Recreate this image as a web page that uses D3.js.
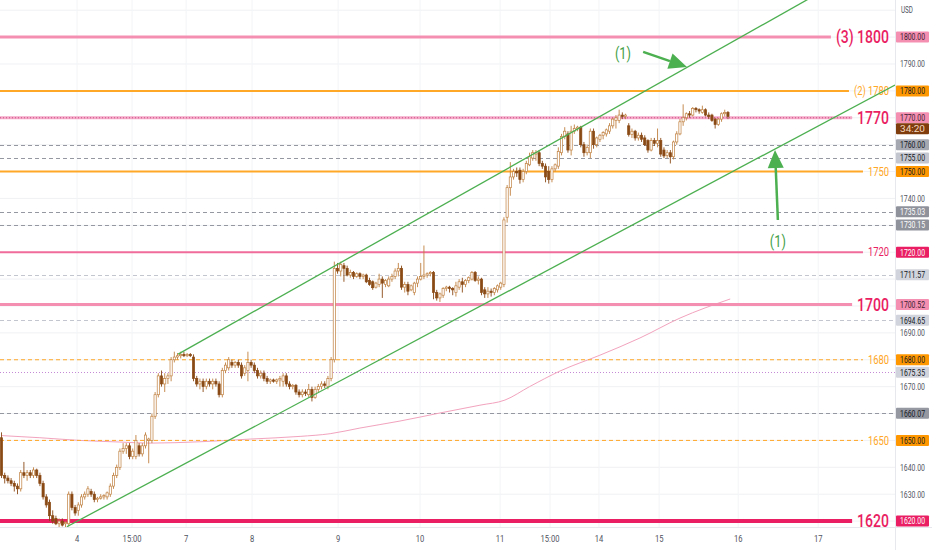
<!DOCTYPE html>
<html>
<head>
<meta charset="utf-8">
<script src="https://cdn.jsdelivr.net/npm/d3@7"></script>
<style>
  html, body { margin: 0; padding: 0; background: #fff; overflow: hidden; }
  svg { display: block; font-family: Roboto, "Noto Sans", sans-serif; }
</style>
</head>
<body>
<div class="container"></div>
<script>
// hourly candles: [open, high, low, close]
const candles = [
  [1651,1653,1636,1637],[1637,1638,1634,1636],[1636,1637,1634,1635],[1635,1636,1633,1634],
  [1634,1635,1631,1633],[1633,1634,1630,1632],[1632,1639,1631,1638],[1638,1642,1636,1637],
  [1637,1639,1635,1638],[1638,1639,1636,1637],[1637,1640,1636,1639],[1639,1639.5,1636,1637],
  [1637,1638,1633,1634],[1634,1635,1628,1629],[1629,1630,1625,1626],[1627,1628,1620,1622],
  [1622,1624,1619,1620],[1621,1622,1618.5,1619],[1619,1621,1617.5,1620],[1620,1621,1618,1618.5],
  [1619,1620,1617.5,1619.5],[1619,1631,1618,1630],[1630,1631,1624,1625],[1625,1626,1622,1623],
  [1624,1627,1622,1626],[1626,1630,1625,1629],[1629,1631,1628,1630],[1630,1633,1629,1632],
  [1631,1632,1629,1630],[1630,1631,1627,1628],[1628,1629,1627,1628.5],[1628.5,1630,1628,1629],
  [1629,1630,1628,1629.5],[1629,1631,1628,1630.5],[1630,1634,1629,1633],[1633,1638,1632,1637],
  [1637,1641,1636,1640],[1640,1647,1639,1646],[1646,1649,1645,1647],[1647,1649,1645,1648],
  [1648,1649,1643,1644],[1644,1647,1643,1646],[1644,1652,1643,1650],[1648,1649,1644,1645],
  [1645,1649,1644,1648],[1648,1653,1647,1652],[1650,1651,1641.5,1650.5],[1650,1660,1649,1659],
  [1659,1668,1658,1667],[1667,1675,1666,1674],[1674,1676,1670,1671],[1671,1675,1668,1673],
  [1673,1675,1671,1674],[1674,1681,1672,1680],[1680,1683,1679,1681],[1681,1682.5,1680,1681.5],
  [1681.5,1683,1680.5,1682],[1682,1683,1681,1681.5],[1681.5,1682.5,1681,1682],[1682,1682.5,1681,1681.5],
  [1681,1682,1672,1673],[1673,1674,1670,1671],[1671,1673,1669,1672],[1672,1673,1668,1670],
  [1670,1673,1669,1672],[1672,1673,1670,1671],[1671,1673,1669,1672],[1672,1673,1670,1671],
  [1671,1672,1666,1667],[1667,1677,1666,1676],[1676,1679,1675,1678],[1677,1681,1676,1680],
  [1679,1680,1677,1678],[1678,1679.5,1677,1679],[1679,1680,1677,1678],[1678,1679,1673,1674],
  [1675,1678,1674,1677],[1676,1683,1672,1679],[1679,1680,1677,1678],[1678,1679,1675,1676],
  [1676,1677,1673,1674],[1674,1676,1673,1675],[1675,1676,1672,1673],[1673,1674,1671,1672],
  [1672,1673,1671,1672.5],[1672.5,1673,1671.5,1672],[1672,1673,1671,1672.5],[1672.5,1674,1670,1673],
  [1672,1675,1670,1674],[1674,1675,1670,1671],[1671,1672,1669,1670],[1670,1671,1669,1670.5],
  [1670.5,1671,1667,1668],[1668,1669,1666,1667],[1667,1669,1666,1668],[1668,1669,1666.5,1667.5],
  [1667,1671,1666,1669],[1669,1670,1664.5,1666],[1666,1670,1665.5,1669],[1669,1671,1668,1670],
  [1670,1672,1669,1671],[1671,1672,1669.5,1670.5],[1670,1674,1669,1673],[1673,1681,1672,1680],
  [1680,1716.5,1679,1714],[1714,1716,1712,1713],[1713,1716.5,1711,1715.5],[1715,1716,1709,1714],
  [1714,1715,1711,1711.5],[1711.5,1713.5,1710.5,1712.5],[1712.5,1713,1710,1711],[1711,1712.5,1710.5,1712],
  [1712,1712.5,1710,1711],[1711,1712,1710,1711.5],[1711.5,1712,1708.5,1709],[1709.5,1710.5,1707.5,1708],
  [1709,1709.5,1706,1706.8],[1707,1709,1706.5,1708.5],[1708,1712,1707,1710],[1710,1711,1703,1708.5],
  [1708,1710,1707,1709.5],[1707.5,1711,1707,1710],[1710,1712,1709,1711],[1711,1714,1710,1713],
  [1713,1716,1711,1714],[1714,1715,1706,1707],[1707,1709,1705,1708],[1708,1709,1704,1705.5],
  [1706,1708,1705.5,1707.5],[1705,1709,1704,1708.5],[1708.5,1711,1707,1710],[1710,1716,1709.5,1711],
  [1711,1722.5,1710,1711.5],[1711.5,1712.5,1710.5,1712],[1712,1713,1711,1712.5],[1712.5,1713,1702.5,1705],
  [1705,1706,1702,1703],[1703,1705,1701.5,1704.5],[1704,1707,1703,1706.5],[1706.5,1707.5,1705.5,1707],
  [1707,1707.5,1705,1706.5],[1706.5,1707,1704,1706],[1705,1709,1703.5,1707.5],[1707,1710,1706,1709],
  [1709,1710.5,1705,1708],[1708,1710,1707,1709.5],[1709.5,1711,1708.5,1710.5],[1710,1713,1709.5,1712.5],
  [1712.5,1713,1709,1709.5],[1709.5,1711,1708,1710],[1710,1710.5,1704,1705],[1706,1707,1703,1704.5],
  [1704.5,1707,1703,1705.5],[1705.5,1706.5,1703.5,1705],[1705,1707,1704,1706.5],[1706,1708,1705,1707.5],
  [1707,1709,1706,1708.5],[1708,1733,1707,1732],[1733,1745,1731,1744],[1744,1753.5,1741,1748],
  [1748,1751,1747,1750],[1750,1751.5,1748,1749.5],[1750.5,1751.5,1745.5,1747],[1747,1751,1746,1750],
  [1750,1754,1749,1753],[1752.5,1757,1752,1755.5],[1755,1758,1754,1757],[1756.5,1758,1754,1757],
  [1757,1758,1752,1753],[1753,1754,1751,1752],[1752,1753,1746,1748],[1750,1752,1745.5,1747],
  [1747,1752,1746,1751],[1751,1753,1750,1752.5],[1752,1759,1751,1757.5],[1757,1764,1756,1763],
  [1763,1766.5,1762,1765],[1764,1765,1757,1758],[1758,1767,1756,1765],[1765,1767.5,1764,1766],
  [1766,1767,1765,1766.5],[1766.5,1767,1759,1760],[1760,1761,1755.5,1757],[1757,1760,1756,1759],
  [1757,1766,1755,1765],[1765,1766,1758.5,1760],[1760,1763,1759,1762.5],[1762,1764,1761,1763.5],
  [1763.5,1765,1762,1764.5],[1764,1766,1763,1765.5],[1765,1768,1764,1767],[1767,1770,1766,1769.5],
  [1769,1771,1766,1770],[1769,1773,1768,1771],[1771,1772,1769.5,1770.5],[1770.5,1771.5,1769.5,1771],
  [1767,1768,1763,1763.8],[1763.8,1766,1762.5,1765],[1765,1765.5,1761.5,1762.5],[1762.5,1764.5,1761.5,1763.5],
  [1763.5,1764.5,1761,1762],[1762.5,1763.5,1759.5,1760],[1761.5,1762,1757,1758],[1758,1762.5,1757.5,1761.5],
  [1761.5,1762.5,1759.5,1760.5],[1760.5,1766,1759,1761.5],[1761.5,1762.5,1755.5,1756.5],[1758,1759,1755,1755.8],
  [1756,1758,1755,1757],[1757,1758,1753,1755.5],[1755.5,1761.5,1754.5,1761],[1761,1765,1760,1764],
  [1764,1769.5,1763.5,1768.5],[1768.5,1775,1767,1770],[1770,1772,1769,1771.5],[1771.5,1772.5,1770,1771],
  [1771,1774,1770.5,1773.5],[1773.5,1774,1772,1773],[1773,1773.5,1771.5,1772.5],[1772,1774.5,1771.5,1773],
  [1773,1773.5,1770.5,1771],[1771,1772,1769.5,1770.5],[1771,1771.5,1768.5,1769],[1769.5,1770,1766,1767.5],
  [1767.5,1770,1767,1769.5],[1769.5,1772,1768.5,1771.5],[1771.5,1773,1770.5,1772],[1772,1772.5,1769.5,1770.5]
];

// time axis (bar index -> label)
const timeTickIdx  = [23.6, 40.8, 57.7, 78.3, 105.2, 130.8, 155.8, 171.4, 186.7, 205.5, 230.2, 255.2];
const timeTickText = ["4", "15:00", "7", "8", "9", "10", "11", "15:00", "14", "15", "16", "17"];

// price axis ticks that are not hidden by tags
const priceTickVals = [1790, 1740, 1690, 1670, 1640, 1630];
const gridVals = [1620,1630,1640,1650,1660,1670,1680,1690,1700,1710,1720,1730,1740,1750,1760,1770,1780,1790,1800,1810];

// moving average, read at a few bars
const maIdx = [0, 12, 24.5, 37, 46.4, 62, 77.7, 93.3, 102.7, 112, 124.5, 137, 149.5, 157.3, 165, 174.5, 187, 199.5, 212, 227.7];
const maVal = [1651.8, 1651, 1650, 1649.4, 1649, 1649.5, 1650.5, 1651.5, 1652.5, 1654.6, 1657.2, 1660.2, 1663.1, 1665, 1670, 1675.8, 1681.7, 1688.1, 1695.5, 1702.6];

// drawn levels
const levelVal  = [1800, 1780, 1770, 1750, 1720, 1700.52, 1680, 1650, 1620];
const levelText = ["(3) 1800", "(2) 1780", "1770", "1750", "1720", "1700", "1680", "1650", "1620"];
const levelTag  = ["1800.00", "1780.00", "1770.00", "1750.00", "1720.00", "1700.52", "1680.00", "1650.00", "1620.00"];

// other price markers (dashed)
const markVal = [1760, 1755, 1735.03, 1730.15, 1711.57, 1694.65, 1675.35, 1660.07];
const markTag = ["1760.00", "1755.00", "1735.03", "1730.15", "1711.57", "1694.65", "1675.35", "1660.07"];

// channel lines [barIndex, price]
const upperChannel = [[55.2, 1682.1], [279.2, 1832.3]];
const lowerChannel = [[20.4, 1617.9], [279.2, 1782.2]];

// arrow notes: tail, tip, label position [barIndex, price]
const arrowTail  = [[200.5, 1794.5], [242.6, 1732]];
const arrowTip   = [[214.2, 1788.9], [241.7, 1758]];
const arrowLabel = [[194.2, 1794.1], [242.6, 1724.2]];
const arrowText  = ["(1)", "(1)"];

const countdown = "34:20";

// ---------------------------------------------------------------
const W = 932, H = 550, plotW = 895, plotH = 527;
const PINK = "#f48fb1", CRIM = "#e91e63", ORG = "#ffa726", GREEN = "#4caf50";
const BULL = "#c08040", BEAR = "#8a4a15";

const x = d3.scaleLinear().domain([-0.47, 279.2]).range([0, plotW]);
const y = d3.scaleLinear().domain([1617.8, 1813.8]).range([plotH, 0]);

const svg = d3.select(".container").append("svg")
  .attr("width", W).attr("height", H);

svg.append("defs").append("clipPath").attr("id", "clip")
  .append("rect").attr("width", plotW).attr("height", plotH);

// text squeezed horizontally (the chart font is narrow); k = scale or fit width
function narrowText(parent, px, py, str, o) {
  const g = parent.append("g");
  const t = g.append("text")
    .attr("x", 0).attr("y", 0).attr("dy", "0.35em")
    .attr("text-anchor", o.anchor || "start")
    .attr("font-size", o.size).attr("fill", o.fill)
    .attr("font-weight", o.weight || 400)
    .text(str);
  let k = o.k || 0.8;
  if (o.width) k = o.width / t.node().getComputedTextLength();
  g.attr("transform", `translate(${px},${py}) scale(${k},1)`);
  return {g: g, width: t.node().getComputedTextLength() * k};
}

// grid
svg.append("g").selectAll("line").data(gridVals).join("line")
  .attr("x1", 0).attr("x2", plotW)
  .attr("y1", d => y(d)).attr("y2", d => y(d))
  .attr("stroke", "#f0f1f4").attr("stroke-width", 1);
svg.append("g").selectAll("line").data(timeTickIdx).join("line")
  .attr("x1", d => x(d)).attr("x2", d => x(d))
  .attr("y1", 0).attr("y2", plotH)
  .attr("stroke", "#f3f4f6").attr("stroke-width", 1);

const plot = svg.append("g").attr("clip-path", "url(#clip)");

// dashed markers
const markStyle = [
  {c: "#9598a1", d: "4,3"}, {c: "#9598a1", d: "4,3"}, {c: "#9598a1", d: "4,3"}, {c: "#9598a1", d: "4,3"},
  {c: "#c3c6ce", d: "4,3"}, {c: "#c3c6ce", d: "4,3"}, {c: "#c58ad6", d: "1,2"}, {c: "#9598a1", d: "4,3"}
];
plot.append("g").selectAll("line").data(markVal).join("line")
  .attr("x1", 0).attr("x2", plotW)
  .attr("y1", d => Math.round(y(d)) + 0.5).attr("y2", d => Math.round(y(d)) + 0.5)
  .attr("stroke", (d, i) => markStyle[i].c)
  .attr("stroke-dasharray", (d, i) => markStyle[i].d)
  .attr("stroke-width", 1);

// moving average
plot.append("path")
  .datum(maIdx.map((v, i) => [v, maVal[i]]))
  .attr("d", d3.line().x(d => x(d[0])).y(d => y(d[1])).curve(d3.curveMonotoneX))
  .attr("fill", "none").attr("stroke", "#f2a3bd").attr("stroke-width", 1);

// levels: text first (to measure), then line up to it
const levelStyle = [
  {c: PINK, w: 3, tc: CRIM, fs: 18, dash: null},
  {c: ORG,  w: 2, tc: ORG,  fs: 12, dash: null},
  {c: "#f5a7c6", w: 3, tc: CRIM, fs: 18, dash: null, dots: true},
  {c: ORG,  w: 2, tc: ORG,  fs: 12, dash: null},
  {c: "#f06c9b", w: 2, tc: CRIM, fs: 12, dash: null},
  {c: PINK, w: 3, tc: CRIM, fs: 18, dash: null},
  {c: ORG,  w: 1, tc: ORG,  fs: 12, dash: "4,3"},
  {c: ORG,  w: 1, tc: ORG,  fs: 12, dash: "4,3"},
  {c: CRIM, w: 4, tc: CRIM, fs: 18, dash: null}
];
const lvG = svg.append("g");
const lvLines = lvG.append("g");
levelVal.forEach((v, i) => {
  const s = levelStyle[i];
  const t = narrowText(lvG, 889, y(v), levelText[i],
    {anchor: "end", size: s.fs, fill: s.tc, weight: s.fs > 14 ? 500 : 400, k: 0.78});
  const x2 = 889 - t.width - 5;
  const ln = lvLines.append("line")
    .attr("x1", 0).attr("x2", x2)
    .attr("y1", y(v)).attr("y2", y(v))
    .attr("stroke", s.c).attr("stroke-width", s.w);
  if (s.dash) ln.attr("stroke-dasharray", s.dash);
  if (s.dots) {
    lvLines.append("line")
      .attr("x1", 0).attr("x2", x2)
      .attr("y1", y(v)).attr("y2", y(v))
      .attr("stroke", "#c9508a").attr("stroke-width", 1).attr("stroke-dasharray", "1,2");
  }
});

// candles
const cg = svg.append("g").attr("clip-path", "url(#clip)");
const bw = 2.2;
const up = d => d[3] >= d[0];
cg.selectAll("line").data(candles).join("line")
  .attr("x1", (d, i) => x(i)).attr("x2", (d, i) => x(i))
  .attr("y1", d => y(d[1])).attr("y2", d => y(d[2]))
  .attr("stroke", d => up(d) ? BULL : BEAR).attr("stroke-width", 0.9);
cg.selectAll("rect").data(candles).join("rect")
  .attr("x", (d, i) => x(i) - bw / 2).attr("width", bw)
  .attr("y", d => y(Math.max(d[0], d[3])))
  .attr("height", d => Math.max(0.8, Math.abs(y(d[0]) - y(d[3]))))
  .attr("fill", d => up(d) ? "#fff" : BEAR)
  .attr("stroke", d => up(d) ? BULL : BEAR).attr("stroke-width", 0.7);

// channel
const lineGen = d3.line().x(d => x(d[0])).y(d => y(d[1]));
svg.append("g").attr("clip-path", "url(#clip)")
  .selectAll("path").data([upperChannel, lowerChannel]).join("path")
  .attr("d", lineGen).attr("fill", "none")
  .attr("stroke", GREEN).attr("stroke-width", 1.3);

// arrows
const ag = svg.append("g");
arrowTail.forEach((tail, i) => {
  const x0 = x(tail[0]), y0 = y(tail[1]);
  const x1 = x(arrowTip[i][0]), y1 = y(arrowTip[i][1]);
  const a = Math.atan2(y1 - y0, x1 - x0);
  const hl = 18, hw = 8;
  const bx = x1 - hl * Math.cos(a), by = y1 - hl * Math.sin(a);
  ag.append("line").attr("x1", x0).attr("y1", y0).attr("x2", bx).attr("y2", by)
    .attr("stroke", GREEN).attr("stroke-width", 2.5);
  ag.append("path")
    .attr("d", `M${x1},${y1}L${bx + hw * Math.sin(a)},${by - hw * Math.cos(a)}L${bx - hw * Math.sin(a)},${by + hw * Math.cos(a)}Z`)
    .attr("fill", GREEN);
  narrowText(ag, x(arrowLabel[i][0]), y(arrowLabel[i][1]), arrowText[i],
    {anchor: "middle", size: 16, fill: "#43a047", k: 0.8});
});

// axis frame
svg.append("line").attr("x1", 0).attr("x2", W).attr("y1", plotH + 0.5).attr("y2", plotH + 0.5)
  .attr("stroke", "#e6e8ee");
svg.append("line").attr("x1", plotW + 0.5).attr("x2", plotW + 0.5).attr("y1", 0).attr("y2", H)
  .attr("stroke", "#e6e8ee");

// price axis ticks
const axG = svg.append("g");
priceTickVals.forEach(v => {
  narrowText(axG, 900, y(v), v.toFixed(2), {size: 9.5, fill: "#50535e", width: 25});
});
narrowText(axG, 901, 10, "USD", {size: 8.5, fill: "#50535e", width: 12});

// tags on the price axis
function tag(v, label, bg, fg, dyOff) {
  const yy = y(v) + (dyOff || 0);
  const g = svg.append("g");
  g.append("rect").attr("x", 896).attr("y", yy - 5.5).attr("width", 33).attr("height", 11)
    .attr("rx", 1).attr("fill", bg);
  narrowText(g, 912.5, yy, label, {anchor: "middle", size: 9.5, fill: fg, width: 25});
}
const markTagStyle = [
  ["#a5a8b0", "#131722"], ["#c3c6ce", "#131722"], ["#8f929b", "#ffffff"], ["#8f929b", "#ffffff"],
  ["#d1d4dc", "#131722"], ["#d1d4dc", "#131722"], ["#d1d4dc", "#131722"], ["#9598a1", "#131722"]
];
markVal.forEach((v, i) => tag(v, markTag[i], markTagStyle[i][0], markTagStyle[i][1]));
const levelTagStyle = [
  [PINK, "#3a2030"], ["#ff9800", "#131722"], [PINK, "#3a2030"], ["#ff9800", "#131722"],
  [CRIM, "#ffffff"], [PINK, "#3a2030"], ["#ff9800", "#131722"], ["#ff9800", "#131722"], [CRIM, "#ffffff"]
];
levelVal.forEach((v, i) => tag(v, levelTag[i], levelTagStyle[i][0], levelTagStyle[i][1]));
tag(1770, countdown, "#7f3c0c", "#f3d9c0", 11);

// time axis
const tG = svg.append("g");
timeTickIdx.forEach((v, i) => {
  narrowText(tG, x(v), 539, timeTickText[i], {anchor: "middle", size: 9.5, fill: "#50535e", k: 0.8});
});
</script>
</body>
</html>
